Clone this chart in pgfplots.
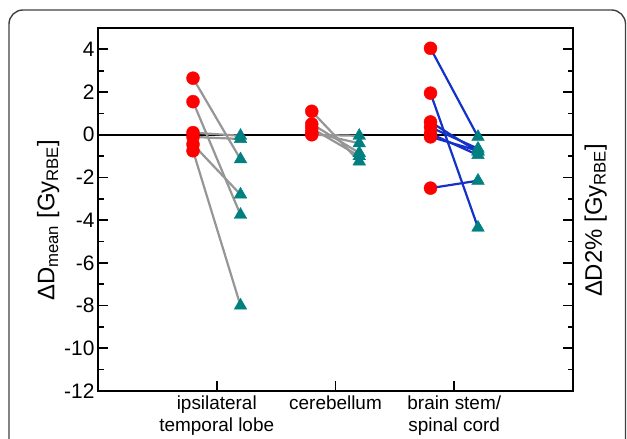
\documentclass[border=0pt]{standalone}
\usepackage{fontspec}
\setmainfont{Liberation Sans}
\usepackage{pgfplots}
\pgfplotsset{compat=1.18}

\definecolor{ptred}{RGB}{255,0,0}
\definecolor{ptteal}{RGB}{0,128,128}
\definecolor{lgray}{RGB}{150,150,150}
\definecolor{lblue}{RGB}{20,50,200}

\begin{document}
\begin{tikzpicture}[x=1bp,y=1bp]
\useasboundingbox (0,0) rectangle (627,439);
\draw[line width=1.4bp, black!75, rounded corners=14bp] (9,-40) rectangle (625.5,429);
\begin{axis}[
    at={(98bp,48bp)}, anchor=south west,
    scale only axis, width=475bp, height=363bp,
    xmin=0, xmax=4, ymin=-12, ymax=5,
    xtick={1,2,3},
    xticklabels={{ipsilateral\\temporal lobe},{cerebellum},{brain stem/\\spinal cord}},
    xticklabel style={align=center, font=\fontsize{19}{22}\selectfont, yshift=-1bp},
    xtick pos=lower,
    ytick={-12,-10,...,4},
    minor y tick num=1,
    ytick pos=both, yticklabel pos=left,
    yticklabel style={font=\fontsize{21}{22}\selectfont, xshift=0bp},
    /pgf/number format/assume math mode=true,
    tick align=inside,
    major tick length=10bp, minor tick length=5.5bp,
    tick style={line width=1.7bp, black},
    axis line style={line width=2bp},
    ylabel={ΔD\textsubscript{mean} [Gy\textsubscript{RBE}]},
    ylabel style={at={(axis description cs:-0.105,0.47)}, anchor=center, font=\fontsize{24}{26}\selectfont},
    clip=false,
]
% zero line
\addplot[black, line width=2.5bp] coordinates {(0,0) (4,0)};

% ipsilateral temporal lobe (paired)
\addplot[lgray, line width=2.2bp] coordinates {(0.8,2.65) (1.2,-1.15)};
\addplot[lgray, line width=2.2bp] coordinates {(0.8,1.55) (1.2,-3.75)};
\addplot[lgray, line width=2.2bp] coordinates {(0.8,0.1) (1.2,-0.05)};
\addplot[lgray, line width=2.2bp] coordinates {(0.8,-0.1) (1.2,-0.2)};
\addplot[lgray, line width=2.2bp] coordinates {(0.8,-0.45) (1.2,-2.8)};
\addplot[lgray, line width=2.2bp] coordinates {(0.8,-0.75) (1.2,-8.0)};

% cerebellum
\addplot[lgray, line width=2.2bp] coordinates {(1.8,1.1) (2.2,-1.25)};
\addplot[lgray, line width=2.2bp] coordinates {(1.8,0.5) (2.2,-0.85)};
\addplot[lgray, line width=2.2bp] coordinates {(1.8,0.3) (2.2,-1.0)};
\addplot[lgray, line width=2.2bp] coordinates {(1.8,0.1) (2.2,-0.4)};
\addplot[lgray, line width=2.2bp] coordinates {(1.8,0.0) (2.2,-0.05)};

% brain stem / spinal cord
\addplot[lblue, line width=2.2bp] coordinates {(2.8,4.05) (3.2,-0.1)};
\addplot[lblue, line width=2.2bp] coordinates {(2.8,1.95) (3.2,-4.35)};
\addplot[lblue, line width=2.2bp] coordinates {(2.8,0.6) (3.2,-0.8)};
\addplot[lblue, line width=2.2bp] coordinates {(2.8,0.35) (3.2,-0.65)};
\addplot[lblue, line width=2.2bp] coordinates {(2.8,0.05) (3.2,-0.95)};
\addplot[lblue, line width=2.2bp] coordinates {(2.8,-0.1) (3.2,-0.75)};
\addplot[lblue, line width=2.2bp] coordinates {(2.8,-2.5) (3.2,-2.15)};

% Delta D_mean (circles)
\addplot[only marks, mark=*, mark size=6.5bp, ptred, mark options={draw=none}] coordinates {
  (0.8,2.65) (0.8,1.55) (0.8,0.1) (0.8,-0.1) (0.8,-0.45) (0.8,-0.75)
  (1.8,1.1) (1.8,0.5) (1.8,0.3) (1.8,0.1) (1.8,0.0)
  (2.8,4.05) (2.8,1.95) (2.8,0.6) (2.8,0.35) (2.8,0.05) (2.8,-0.1) (2.8,-2.5)
};
% Delta D2% (triangles)
\addplot[only marks, mark=triangle*, mark size=7.3bp, ptteal, mark options={draw=none}] coordinates {
  (1.2,-1.15) (1.2,-3.75) (1.2,-0.05) (1.2,-0.2) (1.2,-2.8) (1.2,-8.0)
  (2.2,-1.25) (2.2,-0.85) (2.2,-1.0) (2.2,-0.4) (2.2,-0.05)
  (3.2,-0.1) (3.2,-4.35) (3.2,-0.8) (3.2,-0.65) (3.2,-0.95) (3.2,-0.75) (3.2,-2.15)
};

\node[rotate=90, font=\fontsize{24}{26}\selectfont] at (rel axis cs:1.048,0.47) {ΔD2\% [Gy\textsubscript{RBE}]};
\end{axis}
\end{tikzpicture}
\end{document}
